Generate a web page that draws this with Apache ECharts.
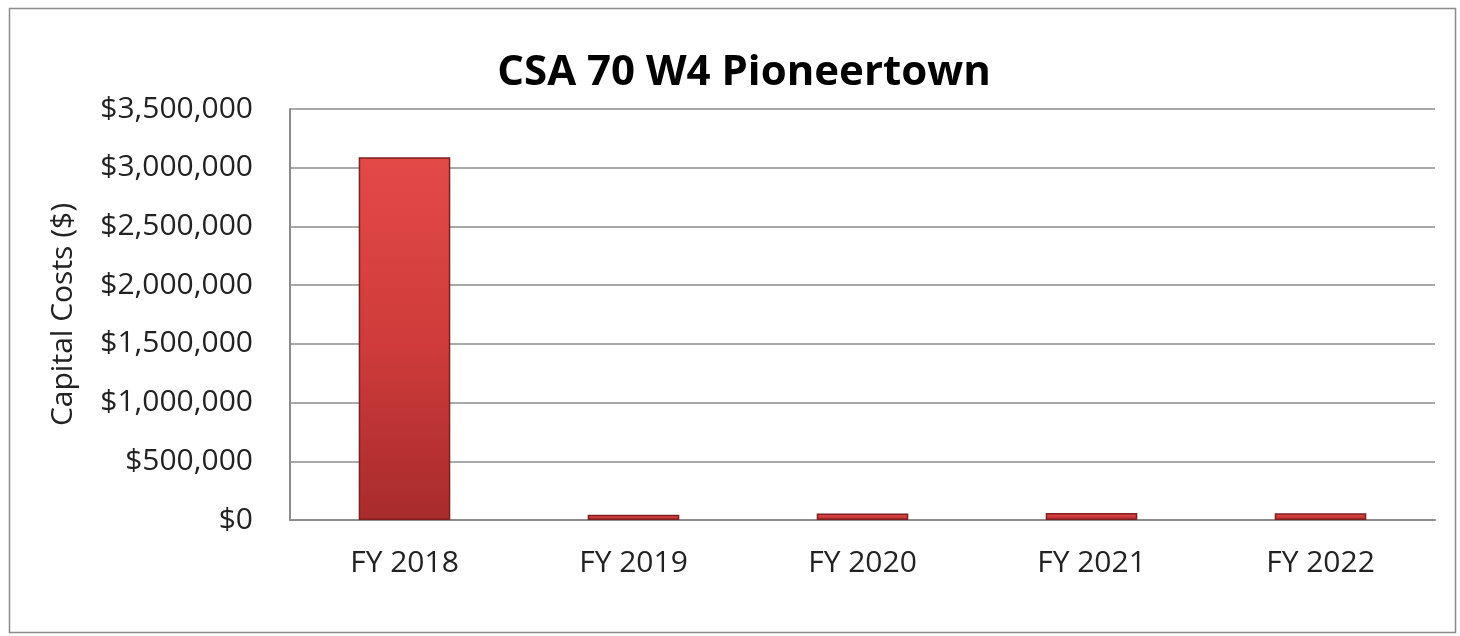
<!DOCTYPE html>
<html>
<head>
<meta charset="utf-8">
<script src="https://cdn.jsdelivr.net/npm/echarts@6/dist/echarts.min.js"></script>
<style>
html,body{margin:0;padding:0;background:#fff;}
#chart{width:1460px;height:636px;}
</style>
</head>
<body>
<div id="chart"></div>
<script>
const categories = ['FY 2018', 'FY 2019', 'FY 2020', 'FY 2021', 'FY 2022'];
const capitalCosts = [3090000, 45000, 55000, 60000, 58000];
const yTicks = { min: 0, max: 3500000, interval: 500000 };
const titleText = 'CSA 70 W4 Pioneertown';
const yAxisName = 'Capital Costs ($)';

const chart = echarts.init(document.getElementById('chart'));
const fontFam = '"Open Sans", "Noto Sans", sans-serif';
chart.setOption({
  animation: false,
  backgroundColor: '#fff',
  title: {
    text: titleText,
    left: 739, top: 47, textAlign: 'center',
    textStyle: { fontFamily: fontFam, fontSize: 42, fontWeight: 'bold', color: '#000' }
  },
  graphic: [{
    type: 'rect', shape: { x: 9.5, y: 8.5, width: 1446, height: 624 },
    style: { fill: 'none', stroke: '#8c8c8c', lineWidth: 1.5 }, silent: true, z: -1
  }],
  grid: { left: 290, right: 25, top: 109, bottom: 116 },
  xAxis: {
    type: 'category', data: categories,
    axisLine: { lineStyle: { color: '#8c8c8c', width: 2 } },
    axisTick: { show: false },
    axisLabel: { fontFamily: fontFam, fontSize: 30, color: '#222', margin: 28 }
  },
  yAxis: {
    type: 'value', min: yTicks.min, max: yTicks.max, interval: yTicks.interval,
    name: yAxisName, nameLocation: 'middle', nameGap: 212, nameRotate: 90,
    nameTextStyle: { fontFamily: fontFam, fontSize: 30, color: '#222' },
    axisLine: { show: true, lineStyle: { color: '#8c8c8c', width: 2 } },
    axisTick: { show: false },
    splitLine: { lineStyle: { color: '#8c8c8c', width: 1.5 } },
    axisLabel: {
      fontFamily: fontFam, fontSize: 30, color: '#222', margin: 37,
      formatter: v => '$' + v.toLocaleString('en-US')
    }
  },
  series: [{
    type: 'bar', data: capitalCosts, barWidth: '40%',
    itemStyle: {
      color: new echarts.graphic.LinearGradient(0, 0, 0, 1, [
        { offset: 0, color: '#e24a48' },
        { offset: 0.5, color: '#d03c3b' },
        { offset: 1, color: '#a82b2c' }
      ]),
      borderColor: '#7e2020', borderWidth: 1.5
    }
  }]
});
</script>
</body>
</html>
